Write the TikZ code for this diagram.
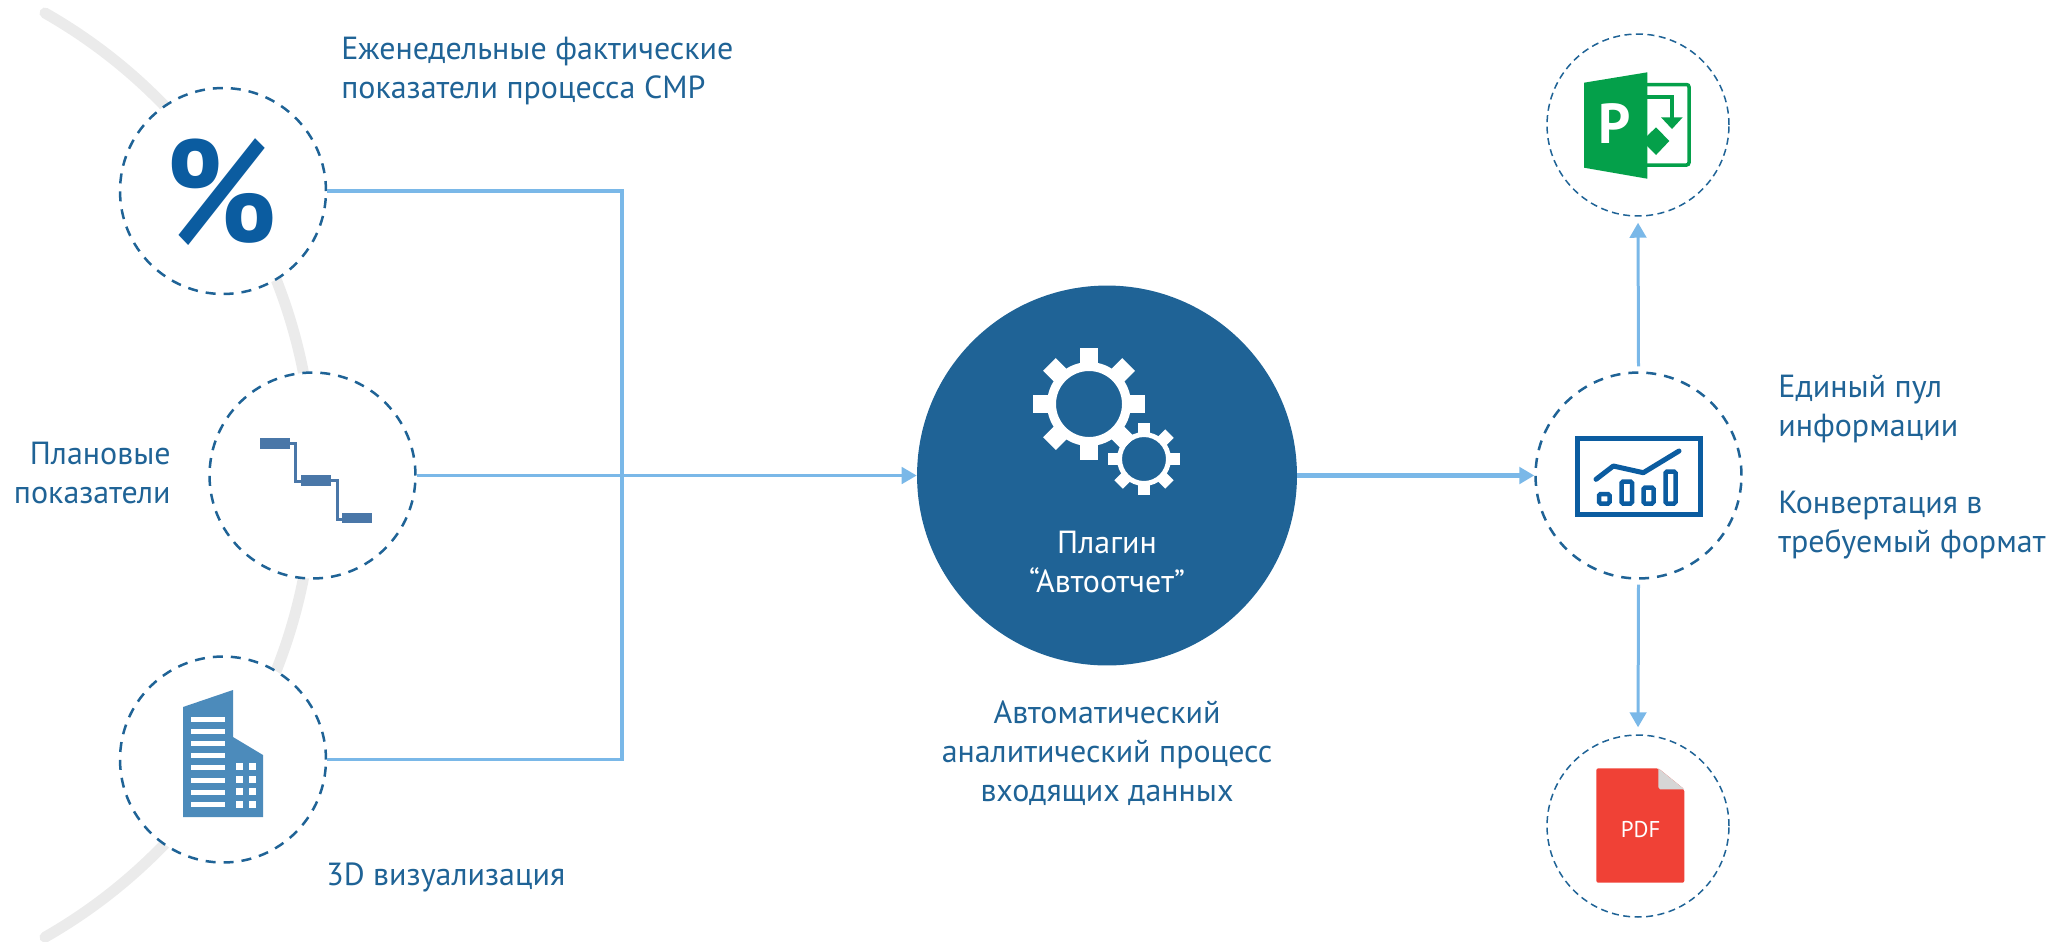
\documentclass[tikz,border=0pt]{standalone}
\usepackage{fontspec}
\setmainfont{PT Sans}
\usetikzlibrary{arrows.meta}
\definecolor{inkblue}{HTML}{1F6396}
\definecolor{flowblue}{HTML}{7AB8E8}
\definecolor{iconblue}{HTML}{0B5CA0}
\definecolor{planblue}{HTML}{4A77A8}
\definecolor{towerblue}{HTML}{4C8BBB}
\definecolor{msgreen}{HTML}{04A04A}
\definecolor{pdfred}{HTML}{F04136}
\tikzset{
    labeltxt/.style={text=inkblue, font=\fontsize{18.2}{22}\selectfont, inner sep=0pt},
    bigring/.style={circle, draw=inkblue, fill=white, line width=0.05cm, dash pattern=on 0.2cm off 0.16cm, minimum size=4.12cm, inner sep=0pt},
    smallring/.style={circle, draw=inkblue, fill=white, line width=0.03cm, dash pattern=on 0.14cm off 0.09cm, minimum size=3.64cm, inner sep=0pt},
    flow/.style={draw=flowblue, line width=0.065cm},
}
\begin{document}
\begin{tikzpicture}[x=0.02cm, y=-0.02cm, >={Triangle[length=0.3cm,width=0.33cm]}]
    \useasboundingbox (0,0) rectangle (2054,941);
    \draw[line width=0.22cm, color=black!8, line cap=round] (45,13) arc[start angle=-60.3, end angle=60.3, radius=532];
    \node[bigring] (pct) at (223,191) {};
    \node[bigring] (plan) at (312.5,475.5) {};
    \node[bigring] (tower) at (223,759.5) {};
    \node[circle, fill=inkblue, minimum size=7.6cm, inner sep=0pt] (core) at (1107,475.5) {};
    \node[bigring] (pool) at (1638.5,475.5) {};
    \node[smallring] (msp) at (1638,125) {};
    \node[smallring] (pdf) at (1638,826) {};
    \coordinate (joint) at (622,475.5);
    \draw[flow] (pct.east) -| (joint);
    \draw[flow] (tower.east) -| (joint);
    \draw[flow, ->] (plan.east) -- (core.west);
    \draw[flow, line width=0.09cm, ->] (core.east) -- (pool.west);
    \draw[flow, line width=0.06cm, ->, shorten <=0.1cm, shorten >=0.12cm] (pool.north) -- (msp.south);
    \draw[flow, line width=0.06cm, ->, shorten <=0.1cm, shorten >=0.14cm] (pool.south) -- (pdf.north);
    \node[text=iconblue, font=\fontsize{88}{88}\bfseries\selectfont, inner sep=0pt] (pctsign) at (221,192) {\scalebox{.86}[.95]{\%}};
    \fill[planblue] (260,438) rectangle (290,449);
    \fill[planblue] (301,475) rectangle (331,486);
    \fill[planblue] (342,513) rectangle (372,523);
    \draw[planblue, line width=0.06cm] (290,443) -- (295.5,443) -- (295.5,481) -- (301,481);
    \draw[planblue, line width=0.06cm] (331,480) -- (337,480) -- (337,519) -- (342,519);
    \fill[towerblue] (183,707) -- (233,690) -- (233,737) -- (263,755) -- (263,817) -- (183,817) -- cycle;
    \foreach \y in {719,731.3,743.3,755.7,767.7,780,792,804.3}
        \fill[white] (190.6,\y-2.5) rectangle (224.6,\y+2.5);
    \foreach \y in {766.5,779,791.7,804.7} {
        \fill[white] (236,\y-3.5) rectangle (242.5,\y+3.5);
        \fill[white] (249,\y-3.5) rectangle (256,\y+3.5);
    }
    \foreach \cx/\cy/\rout/\rmid/\rhole/\tw in {1089/404/56/42/33/18, 1144/459/36/27/22/12} {
        \foreach \a in {0,45,...,315}
            \fill[white, rotate around={\a:(\cx,\cy)}] (\cx+\rmid-2,\cy-\tw/2) rectangle (\cx+\rout,\cy+\tw/2);
        \fill[white, even odd rule] (\cx,\cy) circle[radius=\rmid] (\cx,\cy) circle[radius=\rhole];
    }
    \node[text=white, font=\fontsize{18.2}{22}\selectfont, align=center, inner sep=0pt] (coretxt) at (1107,562) {Плагин\\“Автоотчет”};
    \draw[msgreen, line width=0.07cm, rounded corners=0.05cm] (1647,84.5) -- (1689,84.5) -- (1689,165) -- (1647,165);
    \draw[msgreen, line width=0.08cm] (1647,96.7) -- (1672,96.7) -- (1672,118);
    \fill[msgreen] (1661,117.3) -- (1682.7,117.3) -- (1672,129) -- cycle;
    \fill[msgreen] (1656,127.3) -- (1669.3,141) -- (1656,155) -- (1642,141) -- cycle;
    \fill[msgreen] (1584,82.7) -- (1647.3,72.3) -- (1647.3,178.7) -- (1584,167.7) -- cycle;
    \node[text=white, font=\fontsize{32}{32}\bfseries\selectfont, inner sep=0pt] (msptxt) at (1615,124) {P};
    \draw[iconblue, line width=0.1cm] (1577.5,438.5) rectangle (1700,514.5);
    \fill[iconblue] (1699,436) rectangle (1703,517);
    \draw[iconblue, line width=0.1cm, line cap=round, line join=round] (1596,479.3) -- (1613.3,466) -- (1643.3,472.7) -- (1679,451);
    \foreach \xa/\ya/\xb in {1599/494/1609.5, 1621.5/481.5/1632, 1643.5/487.5/1653.5, 1665.5/471.5/1675.5}
        \draw[iconblue, line width=0.09cm, rounded corners=0.03cm] (\xa,\ya) rectangle (\xb,503.5);
    \fill[pdfred, rounded corners=0.04cm] (1596.3,768.3) -- (1658.3,768.3) -- (1684.3,789.3) -- (1684.3,882.7) -- (1596.3,882.7) -- cycle;
    \fill[black!16] (1658.3,768.3) -- (1684.3,789.3) -- (1660,789.3) -- (1658.3,787) -- cycle;
    \node[text=white, font=\fontsize{13}{13}\selectfont, inner sep=0pt] (pdftxt) at (1640.7,829.3) {PDF};
    \node[labeltxt, anchor=west, align=left] (factlbl) at (341,71) {Еженедельные фактические\\показатели процесса СМР};
    \node[labeltxt, anchor=east, align=right] (planlbl) at (171,473) {Плановые\\показатели};
    \node[labeltxt, anchor=west] (towerlbl) at (326,877) {3D визуализация};
    \node[labeltxt, align=center] (autolbl) at (1107,753) {Автоматический\\аналитический процесс\\входящих данных};
    \node[labeltxt, anchor=west, align=left] (poollbl) at (1778,467) {Единый пул\\информации\\[\baselineskip]Конвертация в\\требуемый формат};
\end{tikzpicture}
\end{document}
